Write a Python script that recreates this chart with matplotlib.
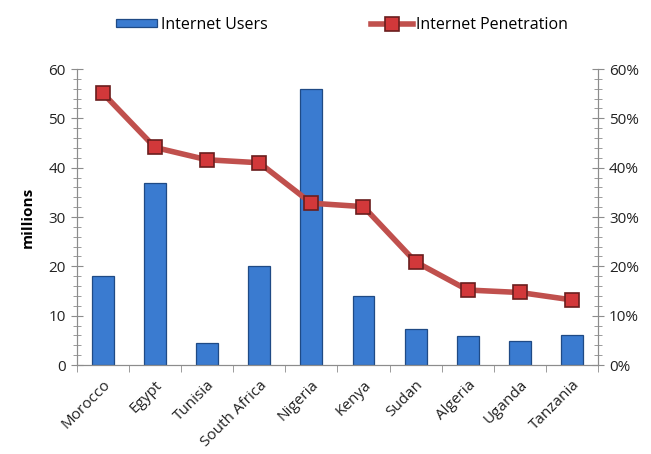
import matplotlib.pyplot as plt
from matplotlib.ticker import MultipleLocator, PercentFormatter
import numpy as np

countries = ["Morocco", "Egypt", "Tunisia", "South Africa", "Nigeria",
             "Kenya", "Sudan", "Algeria", "Uganda", "Tanzania"]
users_millions = [18.0, 36.8, 4.4, 20.1, 56.0, 13.9, 7.2, 5.9, 4.9, 6.1]
penetration_pct = [55.1, 44.1, 41.6, 41.0, 32.8, 32.1, 20.9, 15.2, 14.7, 13.2]

plt.rcParams['font.family'] = ['Open Sans', 'DejaVu Sans']

fig = plt.figure(figsize=(6.51, 4.54), dpi=100)
ax = fig.add_axes([0.118, 0.196, 0.8006, 0.652])
ax2 = ax.twinx()

x = np.arange(len(countries))
gray = "#8c8c8c"

bars = ax.bar(x, users_millions, width=0.42, color="#3A7BD0",
              edgecolor="#1F4A85", linewidth=0.9, label="Internet Users", zorder=2)
line, = ax2.plot(x, penetration_pct, color="#C0504D", lw=4,
                 marker="s", ms=9.5, mfc="#D2383A", mec="#6A1E1E", mew=1.2,
                 label="Internet Penetration", zorder=3)

ax.set_xlim(-0.5, len(countries) - 0.5)
ax.set_ylim(0, 60)
ax2.set_ylim(0, 60)
ax.yaxis.set_major_locator(MultipleLocator(10))
ax.yaxis.set_minor_locator(MultipleLocator(2))
ax2.yaxis.set_major_locator(MultipleLocator(10))
ax2.yaxis.set_minor_locator(MultipleLocator(2))
ax2.yaxis.set_major_formatter(PercentFormatter(decimals=0))

ax.set_xticks(x)
ax.set_xticklabels(countries, rotation=45, ha="right", rotation_mode="anchor",
                   fontsize=11, color="#222222")
ax.set_xticks(np.arange(-0.5, len(countries)), minor=True)
ax.tick_params(axis="x", which="major", length=0, pad=9)
ax.tick_params(axis="x", which="minor", length=5, color=gray)

ax.tick_params(axis="y", which="major", direction="inout", length=9, color=gray,
               labelsize=11, labelcolor="#222222")
ax.tick_params(axis="y", which="minor", direction="inout", length=6, color=gray)
ax2.tick_params(axis="y", which="major", direction="inout", length=9, color=gray,
                labelsize=11, labelcolor="#222222")
ax2.tick_params(axis="y", which="minor", direction="inout", length=6, color=gray)

for a in (ax, ax2):
    a.spines["top"].set_visible(False)
    for s in ("left", "right", "bottom"):
        a.spines[s].set_color(gray)

ax.set_ylabel("millions", fontsize=11, fontweight="bold", labelpad=10)

fig.legend(handles=[bars, line], loc="upper center", bbox_to_anchor=(0.525, 0.995),
           ncol=2, frameon=False, fontsize=11.5, columnspacing=6.5,
           handlelength=2.6, handleheight=0.45, handletextpad=0.2)

fig.savefig("out.png", dpi=100)
